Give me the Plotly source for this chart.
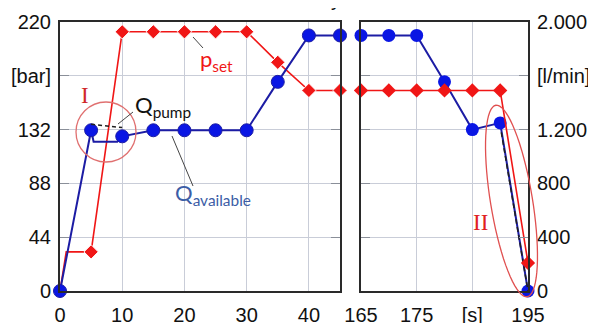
import numpy as np
import plotly.graph_objects as go

# page has an 8px body margin: the figure is drawn at (8, 8) in the window
OFF = 8
W, H = 596 - OFF, 323 - OFF

# ---------------- data ----------------
# set pressure p_set [bar]
pset_left_x = [0, 1, 5, 10, 15, 20, 25, 30, 35, 40, 45]
pset_left_y = [0, 32, 32, 212, 212, 212, 212, 212, 187, 164, 164]
pset_left_marker = [False, False, True, True, True, True, True, True, True, True, True]
pset_right_x = [165, 170, 175, 180, 185, 190, 195]
pset_right_y = [164, 164, 164, 164, 164, 164, 23]

# available flow Q_available [l/min]
qav_left_x = [0, 5, 5.4, 9.2, 10, 15, 20, 25, 30, 35, 40, 45]
qav_left_y = [0, 1195, 1110, 1110, 1150, 1195, 1195, 1195, 1195, 1555, 1900, 1900]
qav_left_marker = [True, True, False, False, True, True, True, True, True, True, True, True]
qav_right_x = [165, 170, 175, 180, 185, 190, 195]
qav_right_y = [1900, 1900, 1900, 1555, 1200, 1250, 0]

# pump flow Q_pump [l/min] (dashed parts)
qpump_I_x = [5, 10]
qpump_I_y = [1240, 1215]
qpump_II_x = [190.2, 195]
qpump_II_y = [1180, 0]

left_xticks = [0, 10, 20, 30, 40]
right_xticks = [165, 175, 185, 195]
right_xticktext = ["165", "175", "[s]", "195"]
bar_ticks = [0, 44, 88, 132, 176, 220]
bar_ticktext = ["0", "44", "88", "132", "[bar]", "220"]
lmin_ticks = [0, 400, 800, 1200, 1600, 2000]
lmin_ticktext = ["0", "400", "800", "1.200", "[l/min]", "2.000"]

# ---------------- style ----------------
RED = "#f01616"
BLUE_M = "#0a16e4"
BLUE_L = "#1c1ca4"
GRID = "#c9cdd8"
FRAME = "#2a2a2a"
FONT = "Liberation Sans, Arial, sans-serif"


def X(px):
    return (px - OFF) / W


def Y(py):
    return 1 - (py - OFF) / H


fig = go.Figure()

# left panel
fig.add_trace(go.Scatter(
    x=qav_left_x, y=qav_left_y, xaxis="x", yaxis="y2", mode="lines+markers",
    line=dict(color=BLUE_L, width=2),
    marker=dict(color=BLUE_M, opacity=1, size=[13 if m else 0 for m in qav_left_marker]),
    cliponaxis=False, showlegend=False))
fig.add_trace(go.Scatter(
    x=qpump_I_x, y=qpump_I_y, xaxis="x", yaxis="y2", mode="lines",
    line=dict(color="#202020", width=1.5, dash="4px,3px"),
    cliponaxis=False, showlegend=False))
fig.add_trace(go.Scatter(
    x=pset_left_x, y=pset_left_y, xaxis="x", yaxis="y", mode="lines+markers",
    line=dict(color=RED, width=1.6),
    marker=dict(color=RED, opacity=1, symbol="diamond",
                size=[11 if m else 0 for m in pset_left_marker]),
    cliponaxis=False, showlegend=False))

# right panel
fig.add_trace(go.Scatter(
    x=qav_right_x, y=qav_right_y, xaxis="x2", yaxis="y3", mode="lines+markers",
    line=dict(color=BLUE_L, width=2),
    marker=dict(color=BLUE_M, opacity=1, size=13),
    cliponaxis=False, showlegend=False))
fig.add_trace(go.Scatter(
    x=qpump_II_x, y=qpump_II_y, xaxis="x2", yaxis="y3", mode="lines",
    line=dict(color="#202020", width=1.5, dash="5px,3px"),
    cliponaxis=False, showlegend=False))
fig.add_trace(go.Scatter(
    x=pset_right_x, y=pset_right_y, xaxis="x2", yaxis="y4", mode="lines+markers",
    line=dict(color=RED, width=1.6),
    marker=dict(color=RED, opacity=1, symbol="diamond", size=11),
    cliponaxis=False, showlegend=False))

ydom = [Y(291), Y(22)]
common_x = dict(showgrid=True, gridcolor=GRID, gridwidth=1, zeroline=False,
                showline=True, mirror=True, linecolor=FRAME, linewidth=2,
                ticks="", automargin=False, ticklabelstandoff=5,
                tickfont=dict(family=FONT, size=20, color="#111"))
common_y = dict(showgrid=True, gridcolor=GRID, gridwidth=1, zeroline=False,
                showline=True, mirror="allticks", linecolor=FRAME, linewidth=2,
                ticks="inside", ticklen=9, tickcolor="#8a8f99", tickwidth=1,
                automargin=False,
                tickfont=dict(family=FONT, size=20, color="#111"))

fig.update_layout(
    width=W, height=H,
    margin=dict(l=0, r=0, t=0, b=0, autoexpand=False),
    paper_bgcolor="white", plot_bgcolor="white",
    xaxis=dict(domain=[X(60), X(340)], range=[0, 45], tickvals=left_xticks,
               anchor="y", **common_x),
    yaxis=dict(domain=ydom, range=[0, 220], tickvals=bar_ticks, ticktext=bar_ticktext,
               anchor="x", side="left", ticklabelstandoff=3, **common_y),
    yaxis2=dict(range=[0, 2000], overlaying="y", anchor="x", visible=False),
    xaxis2=dict(domain=[X(361), X(528)], range=[165, 195], tickvals=right_xticks,
                ticktext=right_xticktext, anchor="y3", **common_x),
    yaxis3=dict(domain=ydom, range=[0, 2000], tickvals=lmin_ticks, ticktext=lmin_ticktext,
                anchor="x2", side="right", ticklabelstandoff=3, **common_y),
    yaxis4=dict(range=[0, 220], overlaying="y3", anchor="x2", visible=False),
)

# ---------------- decorations ----------------
shapes = []
# circle I
shapes.append(dict(type="circle", xref="paper", yref="paper",
                   x0=X(76), x1=X(136), y0=Y(162), y1=Y(102),
                   line=dict(color="#e07070", width=1.3)))
# tilted ellipse II
cx, cy, a, b = 511.5, 201.0, 97.0, 21.0
ang = np.deg2rad(9.3)
t = np.linspace(0, 2 * np.pi, 73)
ex = cx + b * np.cos(t) * np.cos(ang) + a * np.sin(t) * np.sin(ang)
ey = cy - b * np.cos(t) * np.sin(ang) + a * np.sin(t) * np.cos(ang)
path = "M " + " L ".join(f"{X(px):.5f},{Y(py):.5f}" for px, py in zip(ex, ey)) + " Z"
shapes.append(dict(type="path", xref="paper", yref="paper", path=path,
                   line=dict(color="#e05050", width=1.3)))
# leader lines
for (x0, y0, x1, y1) in [(193, 37, 203, 48), (118, 124, 133, 112), (172, 136, 193, 186)]:
    shapes.append(dict(type="line", xref="paper", yref="paper",
                       x0=X(x0), y0=Y(y0), x1=X(x1), y1=Y(y1),
                       line=dict(color="#454545", width=1)))
fig.update_layout(shapes=shapes)

LABFONT = "Lato, Open Sans, sans-serif"
annos = [
    dict(text="p<sub>set</sub>", x=X(216), y=Y(60), font=dict(family=LABFONT, size=22, color=RED)),
    dict(text="Q<sub>pump</sub>", x=X(163), y=Y(106), font=dict(family=LABFONT, size=22, color="#111")),
    dict(text="Q<sub>available</sub>", x=X(213), y=Y(194), font=dict(family=LABFONT, size=22, color="#3c5da6")),
    dict(text="I", x=X(85), y=Y(95), font=dict(family="Liberation Serif, serif", size=23, color="#d02828")),
    dict(text="II", x=X(480), y=Y(222), font=dict(family="Liberation Serif, serif", size=23, color="#e02020")),
    dict(text="y", x=X(336), y=Y(-1), font=dict(family=FONT, size=20, color="#111")),
]
for an in annos:
    fig.add_annotation(xref="paper", yref="paper", showarrow=False,
                       xanchor="center", yanchor="middle", **an)

fig.write_html("out.html")
